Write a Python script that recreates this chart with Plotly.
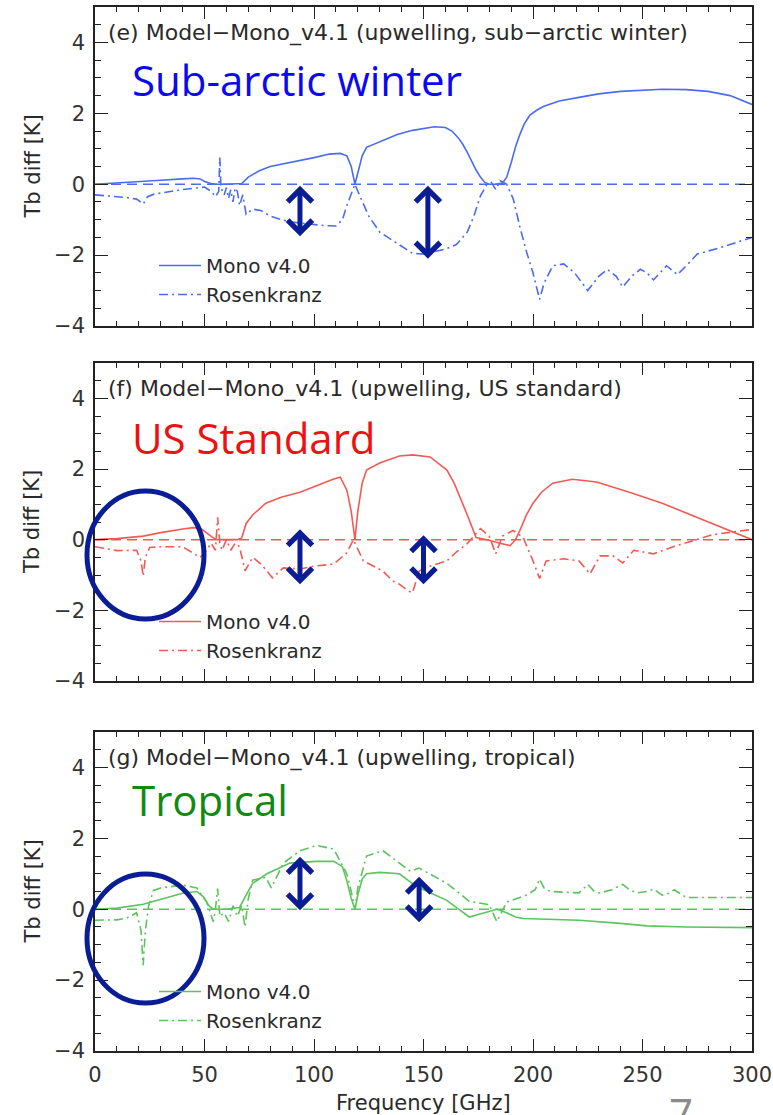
import plotly.graph_objects as go

W, H = 773, 1115

# ---------------- data ----------------
# Panel (e) sub-arctic winter
SAW_MONO_X = [0, 10, 20, 30, 40, 45, 48, 50, 53, 55, 60, 65, 67, 70, 75, 80, 90, 100, 107, 112, 115, 117, 118.7,
              120, 122, 124, 130, 138, 145, 150, 155, 160, 163, 166, 168, 170, 172, 174, 176, 178, 180, 183, 186,
              188, 190, 192, 194, 196, 198.6, 202, 205, 212, 221, 230, 240, 250, 259, 270, 280, 290, 300]
SAW_MONO_Y = [0, 0.03, 0.07, 0.11, 0.15, 0.17, 0.15, 0.08, 0.02, 0, 0, 0, 0.02, 0.2, 0.38, 0.5, 0.62, 0.75, 0.85,
              0.87, 0.8, 0.5, 0, 0.3, 0.8, 1.04, 1.2, 1.4, 1.52, 1.58, 1.62, 1.6, 1.5, 1.3, 1.12, 0.9, 0.65, 0.4,
              0.2, 0.05, 0, 0, 0.03, 0.2, 0.6, 1.05, 1.4, 1.7, 1.95, 2.1, 2.2, 2.35, 2.45, 2.55, 2.62, 2.66, 2.68,
              2.67, 2.62, 2.5, 2.25]
SAW_ROS_X = [0, 5, 10, 15, 19, 22, 24, 27, 30, 40, 50, 53, 55, 56.5, 57, 57.5, 59, 60, 61, 62, 63, 64, 65, 66,
             67.5, 69, 72, 76, 80, 85, 90, 95, 100, 105, 110, 113, 115, 117, 118.7, 120, 122, 125, 130, 136, 145,
             150, 155, 160, 165, 170, 173, 176, 179, 181, 183, 185, 188, 191, 194, 197, 200, 203, 205, 209, 214,
             219, 225, 230, 234, 238, 241, 245, 249, 252, 255, 258, 261, 263, 266, 270, 275, 285, 300]
SAW_ROS_Y = [-0.3, -0.32, -0.34, -0.38, -0.42, -0.56, -0.35, -0.28, -0.25, -0.15, -0.08, -0.2, -0.35, -0.2, 0.75,
             -0.1, -0.3, -0.1, -0.4, -0.15, -0.5, -0.1, -0.2, -0.6, -0.3, -0.85, -0.7, -0.75, -0.9, -1.0, -1.07,
             -1.1, -1.15, -1.17, -1.18, -1.0, -0.6, -0.3, 0, -0.2, -0.5, -0.9, -1.35, -1.6, -1.95, -1.97, -1.9,
             -1.83, -1.7, -1.35, -0.9, -0.33, 0, 0.05, -0.15, 0.1, 0, -0.42, -1.2, -1.9, -2.5, -3.25, -2.8, -2.3,
             -2.25, -2.5, -3.0, -2.6, -2.4, -2.6, -2.9, -2.6, -2.4, -2.5, -2.7, -2.5, -2.3, -2.4, -2.55, -2.3,
             -1.97, -1.8, -1.5]

# Panel (f) US standard
US_MONO_X = [0, 10, 22, 30, 40, 45, 48, 51, 54, 56, 60, 65, 67, 69, 72, 78, 85, 93.6, 100, 109, 112, 115, 117,
             118.7, 120, 122, 124, 130, 139, 145, 153, 160.7, 164, 166.7, 170, 174, 179, 185, 189.5, 192, 194, 197,
             200, 204, 209, 218, 229, 244, 259, 275, 290, 300]
US_MONO_Y = [0, 0.03, 0.1, 0.2, 0.3, 0.34, 0.33, 0.2, 0.05, 0, 0, 0, 0.05, 0.46, 0.7, 1.03, 1.2, 1.34, 1.5, 1.72,
             1.77, 1.4, 0.8, 0, 0.8, 1.6, 1.97, 2.17, 2.37, 2.4, 2.34, 1.97, 1.6, 1.2, 0.7, 0.06, 0, -0.1, -0.17,
             0, 0.26, 0.7, 1.03, 1.35, 1.6, 1.71, 1.63, 1.34, 1.03, 0.63, 0.26, 0]
US_ROS_X = [0, 5, 10, 19, 21, 22, 23, 25, 30, 40, 48, 51, 53, 55, 56, 57, 58, 60, 62, 64, 66, 68.5, 72, 76, 81, 86,
            93.6, 100, 109, 115, 118, 122.5, 131.5, 136, 139, 143, 145, 148, 153, 160.7, 165, 170, 176, 180, 183,
            186, 191, 195.5, 200, 203, 206, 214, 221, 226, 230.6, 236.6, 241, 246, 255, 264, 275, 282, 300]
US_ROS_Y = [-0.2, -0.25, -0.31, -0.3, -0.6, -1.03, -0.5, -0.22, -0.2, -0.2, -0.5, -0.3, -0.1, -0.3, 0.63, -0.1,
            -0.3, 0, -0.3, -0.1, -0.2, -0.88, -0.5, -0.7, -1.08, -0.8, -0.83, -0.75, -0.69, -0.37, 0, -0.6, -0.89,
            -1.17, -1.26, -1.45, -1.5, -0.89, -0.75, -0.6, -0.35, -0.11, 0.31, 0.1, -0.4, 0.1, 0.26, 0.06, -0.6,
            -1.1, -0.6, -0.54, -0.6, -0.97, -0.46, -0.46, -0.66, -0.3, -0.4, -0.2, 0, 0.14, 0.29]

# Panel (g) tropical
TR_MONO_X = [0, 10, 22, 30, 40, 46.5, 49.5, 52, 54, 60, 66, 69, 72, 78.5, 89, 101, 109, 113, 115, 117, 118.7, 120,
             122, 124, 130, 139, 145, 150, 155, 160.7, 166, 171, 175, 180, 183.5, 188, 192, 195.5, 210, 221, 240,
             252, 270, 300]
TR_MONO_Y = [0, 0.03, 0.14, 0.28, 0.45, 0.5, 0.35, 0.1, 0, 0, 0.05, 0.4, 0.73, 1.0, 1.3, 1.35, 1.35, 1.2, 0.8, 0.3,
             0, 0.4, 0.85, 1.0, 1.04, 1.0, 0.72, 0.55, 0.4, 0.25, 0, -0.22, -0.15, -0.05, 0, -0.1, -0.22, -0.26,
             -0.28, -0.31, -0.4, -0.47, -0.5, -0.52]
TR_ROS_X = [0, 10, 14.5, 19, 21, 22, 23, 24.5, 26.7, 30, 40, 46.5, 51, 54, 55, 56, 57, 59, 61, 63, 65, 67, 68.5, 70,
            72, 78, 80.5, 86, 93.6, 101, 109, 115, 117, 118.7, 120, 124, 131.5, 139, 144, 148, 160.7, 171, 180,
            183.5, 188, 197, 201, 203, 205, 208, 221, 225, 228, 230.6, 236, 241, 244, 247.5, 252, 255, 259, 262,
            264.5, 270, 300]
TR_ROS_Y = [-0.31, -0.3, -0.25, -0.1, -0.6, -1.58, -0.6, 0.1, 0.53, 0.6, 0.68, 0.6, 0.2, -0.35, 0, 0.58, -0.2, -0.1,
            -0.35, 0.1, -0.2, 0.1, -0.5, 0.3, 0.82, 0.9, 0.6, 1.3, 1.65, 1.8, 1.7, 1.0, 0.5, 0, 0.6, 1.5, 1.65, 1.3,
            1.07, 1.16, 0.73, 0.22, 0.13, -0.35, 0.2, 0.4, 0.55, 0.85, 0.6, 0.5, 0.46, 0.7, 0.5, 0.46, 0.55, 0.7,
            0.55, 0.46, 0.5, 0.57, 0.4, 0.45, 0.55, 0.33, 0.33]

ZERO_X = [0, 300]
ZERO_Y = [0, 0]

PANEL_TITLES = ["(e) Model\u2212Mono_v4.1 (upwelling, sub\u2212arctic winter)",
                "(f) Model\u2212Mono_v4.1 (upwelling, US standard)",
                "(g) Model\u2212Mono_v4.1 (upwelling, tropical)"]
BIG_LABELS = ["Sub-arctic winter", "US Standard", "Tropical"]
SERIES_NAMES = ["Mono v4.0", "Rosenkranz"]
X_TICKS = [0, 50, 100, 150, 200, 250, 300]
Y_TICKS = [-4, -2, 0, 2, 4]

# arrows: (x, top, bottom) per panel
ARROWS = [
    [(93.6, 0.0, -1.47), (152, 0.0, -2.1)],
    [(93.6, 0.34, -1.26), (150, 0.17, -1.26)],
    [(93.6, 1.52, -0.03), (148, 0.96, -0.37)],
]

# ---------------- styling ----------------
LINE_COLORS = ["#4a6cf0", "#f25a55", "#5cc45c"]
LABEL_COLORS = ["#0a0af0", "#ee1111", "#128a12"]
NAVY = "#0b1d94"
AX = "#222222"
TXT = "#2a2a2a"
IDL_FONT = "DejaVu Sans"

# pixel geometry
PLOT_L, PLOT_R = 95, 752
PANELS_PX = [(7, 326), (363, 681), (732, 1051)]

def py(p):
    return 1 - p / H

def px(p):
    return p / W

panels = [
    (SAW_MONO_X, SAW_MONO_Y, SAW_ROS_X, SAW_ROS_Y),
    (US_MONO_X, US_MONO_Y, US_ROS_X, US_ROS_Y),
    (TR_MONO_X, TR_MONO_Y, TR_ROS_X, TR_ROS_Y),
]

fig = go.Figure()
legend_ids = ["legend", "legend2", "legend3"]
for i, (mx, my, rx, ry) in enumerate(panels):
    xa = "x" if i == 0 else f"x{i+1}"
    ya = "y" if i == 0 else f"y{i+1}"
    c = LINE_COLORS[i]
    fig.add_trace(go.Scatter(x=ZERO_X, y=ZERO_Y, mode="lines", xaxis=xa, yaxis=ya,
                             line=dict(color=c, width=1.5, dash="10px,6px"), showlegend=False,
                             hoverinfo="skip"))
    fig.add_trace(go.Scatter(x=mx, y=my, mode="lines", xaxis=xa, yaxis=ya, name=SERIES_NAMES[0],
                             line=dict(color=c, width=1.6), legend=legend_ids[i]))
    fig.add_trace(go.Scatter(x=rx, y=ry, mode="lines", xaxis=xa, yaxis=ya, name=SERIES_NAMES[1],
                             line=dict(color=c, width=1.6, dash="9px,4px,2px,4px"), legend=legend_ids[i]))

layout = dict(
    width=W, height=H, margin=dict(l=0, r=0, t=0, b=0, autoexpand=False),
    paper_bgcolor="white", plot_bgcolor="white",
    font=dict(family=IDL_FONT, size=21, color=TXT),
    showlegend=True,
)

legend_tops = [246, 602, 972]
for i, (top, bot) in enumerate(PANELS_PX):
    xk = "xaxis" if i == 0 else f"xaxis{i+1}"
    yk = "yaxis" if i == 0 else f"yaxis{i+1}"
    anchor_x = "y" if i == 0 else f"y{i+1}"
    anchor_y = "x" if i == 0 else f"x{i+1}"
    layout[xk] = dict(
        domain=[px(PLOT_L), px(PLOT_R)], anchor=anchor_x, range=[0, 300], automargin=False,
        tickvals=X_TICKS, ticks="inside", ticklen=12, tickwidth=1.3, tickcolor=AX,
        minor=dict(dtick=10, tick0=0, ticks="inside", ticklen=5, tickwidth=1.2, tickcolor=AX),
        showline=True, linecolor=AX, linewidth=1.6, mirror="allticks",
        showgrid=False, zeroline=False, showticklabels=(i == 2),
        tickfont=dict(family=IDL_FONT, size=21, color="#333333"), ticklabelstandoff=4,
    )
    layout[yk] = dict(
        domain=[py(bot), py(top)], anchor=anchor_y, range=[-4, 5], automargin=False,
        tickvals=Y_TICKS, ticks="inside", ticklen=13, tickwidth=1.3, tickcolor=AX,
        minor=dict(dtick=0.5, tick0=0, ticks="inside", ticklen=6, tickwidth=1.2, tickcolor=AX),
        showline=True, linecolor=AX, linewidth=1.6, mirror="allticks",
        showgrid=False, zeroline=False,
        tickfont=dict(family=IDL_FONT, size=21, color="#333333"), ticklabelstandoff=4,
    )
    lk = legend_ids[i]
    layout[lk] = dict(x=px(154), y=py(legend_tops[i]), xanchor="left", yanchor="top",
                      bgcolor="rgba(0,0,0,0)", borderwidth=0,
                      font=dict(family=IDL_FONT, size=20, color=TXT), itemwidth=42)

annotations = []
shapes = []
for i, (top, bot) in enumerate(PANELS_PX):
    annotations.append(dict(text=PANEL_TITLES[i], xref="paper", yref="paper", x=px(106), y=py(top + 26),
                            xanchor="left", yanchor="middle", showarrow=False,
                            font=dict(family=IDL_FONT, size=22, color=TXT)))
    annotations.append(dict(text="Tb diff [K]", xref="paper", yref="paper", x=px(32), y=py((top + bot) / 2),
                            xanchor="center", yanchor="middle", textangle=-90, showarrow=False,
                            font=dict(family=IDL_FONT, size=21, color=TXT)))
big_y = [80, 437, 799]
for i in range(3):
    annotations.append(dict(text=BIG_LABELS[i], xref="paper", yref="paper", x=px(130), y=py(big_y[i]),
                            xanchor="left", yanchor="middle", showarrow=False,
                            font=dict(family="Open Sans", size=42, color=LABEL_COLORS[i])))
annotations.append(dict(text="Frequency [GHz]", xref="paper", yref="paper", x=px((PLOT_L + PLOT_R) / 2),
                        y=py(1103), xanchor="center", yanchor="middle", showarrow=False,
                        font=dict(family=IDL_FONT, size=21, color=TXT)))
# page number (cut off by the page edge, as in the original slide)
annotations.append(dict(text="7", xref="paper", yref="paper", x=px(681), y=py(1082),
                        xanchor="center", yanchor="top", showarrow=False,
                        font=dict(family="Open Sans", size=42, color="#8a8a8a")))
for i, arrs in enumerate(ARROWS):
    xa = "x" if i == 0 else f"x{i+1}"
    ya = "y" if i == 0 else f"y{i+1}"
    for (ax_, t, b) in arrs:
        annotations.append(dict(x=ax_, y=b, ax=ax_, ay=t, xref=xa, yref=ya, axref=xa, ayref=ya,
                                text="", showarrow=True, arrowside="end+start",
                                arrowhead=4, startarrowhead=4, arrowsize=0.95, startarrowsize=0.95,
                                arrowwidth=5, arrowcolor=NAVY))
for (x0, x1, y0, y1) in [(87, 204, 491, 619), (87, 204, 874, 1003)]:
    shapes.append(dict(type="circle", xref="paper", yref="paper", x0=px(x0), x1=px(x1),
                       y0=py(y1), y1=py(y0), line=dict(color=NAVY, width=5), layer="above"))

layout["annotations"] = annotations
layout["shapes"] = shapes
fig.update_layout(**layout)
fig.write_html("out.html")
